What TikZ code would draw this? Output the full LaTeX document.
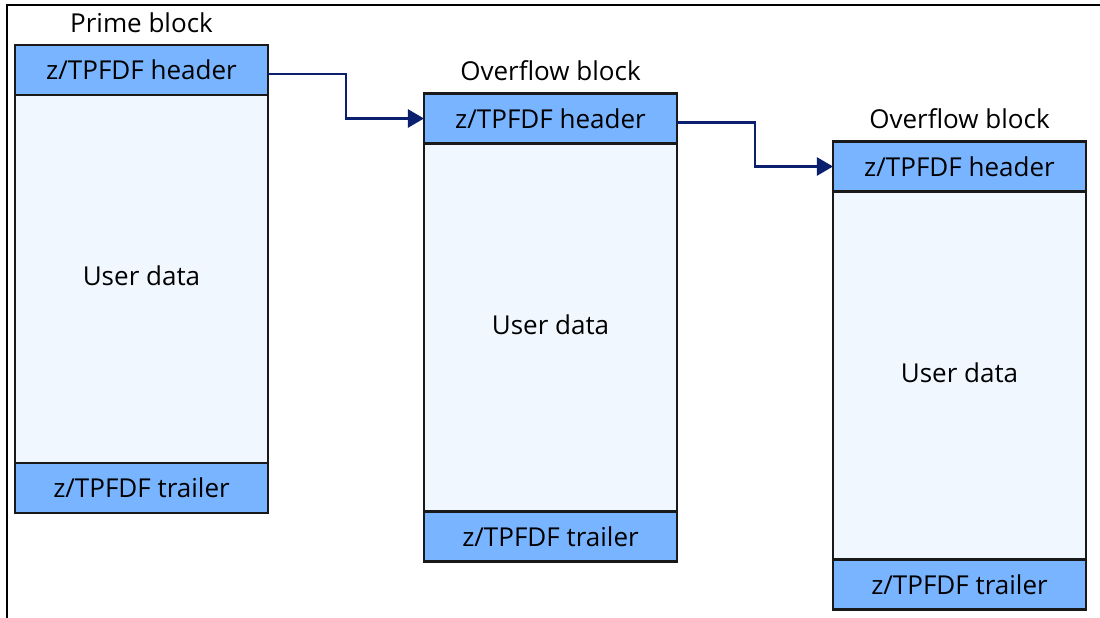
\documentclass[tikz,border=0pt]{standalone}
\usepackage{fontspec}
\setmainfont{Open Sans}
\usetikzlibrary{positioning,arrows.meta}
\definecolor{hdrblue}{HTML}{78B4FF}
\definecolor{datablue}{HTML}{F0F7FF}
\definecolor{linknavy}{HTML}{0A1F6E}
\begin{document}
\begin{tikzpicture}[x=0.025cm,y=-0.025cm,node distance=0,
	part/.style={rectangle,draw=black!90,line width=1.8pt,fill=hdrblue,minimum width=6.325cm,minimum height=1.25cm,inner sep=0,outer sep=0,font=\fontsize{18.5}{22}\selectfont},
	body/.style={part,fill=datablue,minimum height=9.2cm},
	caption/.style={inner sep=0,font=\fontsize{18.5}{22}\selectfont},
	link/.style={-{Triangle[length=0.4cm,width=0.45cm]},draw=linknavy,line width=1.7pt}]
	\useasboundingbox (0,0) rectangle (1100,618);
	\draw [line width=0.8pt] (7,618) -- (7,5) -- (1100,5);
	% prime block
	\node (h1) [part] at (141.5,70) {z/TPFDF header};
	\node (d1) [body,below=of h1] {\raisebox{0.15cm}{User data}};
	\node (t1) [part,below=of d1] {z/TPFDF trailer};
	\node (c1) [caption,above=0.3cm of h1] {Prime block};
	% first overflow block
	\node (h2) [part] at (550.5,118.5) {z/TPFDF header};
	\node (d2) [body,below=of h2] {\raisebox{0.15cm}{User data}};
	\node (t2) [part,below=of d2] {z/TPFDF trailer};
	\node (c2) [caption,above=0.3cm of h2] {Overflow block};
	% second overflow block
	\node (h3) [part] at (959.5,166.5) {z/TPFDF header};
	\node (d3) [body,below=of h3] {\raisebox{0.15cm}{User data}};
	\node (t3) [part,below=of d3] {z/TPFDF trailer};
	\node (c3) [caption,above=0.3cm of h3] {Overflow block};
	\draw [link] ([yshift=-0.1cm]h1.east) -- ++(78,0) |- (h2.west);
	\draw [link] ([yshift=-0.1cm]h2.east) -- ++(78,0) |- (h3.west);
\end{tikzpicture}
\end{document}
